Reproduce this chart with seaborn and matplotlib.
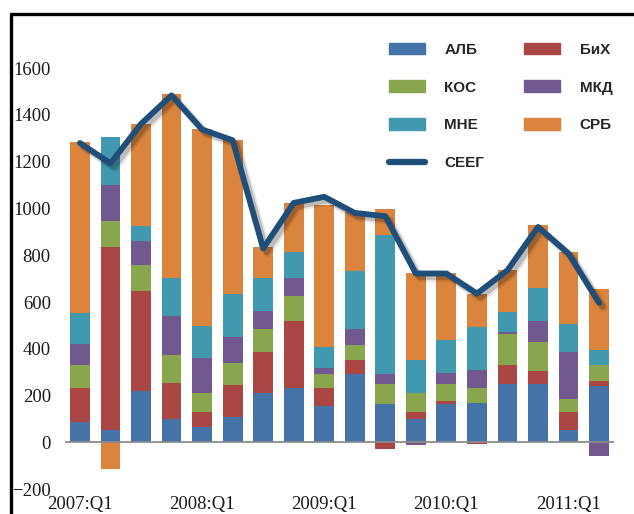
import numpy as np
import matplotlib
matplotlib.use("Agg")
import matplotlib.pyplot as plt
import matplotlib.patheffects as pe
from matplotlib.patches import Patch
from matplotlib.lines import Line2D
import seaborn as sns

quarters = ["2007:Q1", "2007:Q2", "2007:Q3", "2007:Q4",
            "2008:Q1", "2008:Q2", "2008:Q3", "2008:Q4",
            "2009:Q1", "2009:Q2", "2009:Q3", "2009:Q4",
            "2010:Q1", "2010:Q2", "2010:Q3", "2010:Q4",
            "2011:Q1", "2011:Q2"]

alb = [87, 51, 220, 100, 64, 107, 212, 234, 155, 291, 164, 100, 164, 170, 248, 248, 51, 241]
bih = [147, 785, 426, 155, 64, 140, 176, 286, 79, 63, -30, 28, 14, -9, 84, 56, 77, 21]
kos = [97, 111, 113, 119, 84, 91, 97, 105, 57, 62, 84, 84, 70, 64, 131, 125, 56, 70]
mkd = [91, 154, 104, 168, 147, 113, 78, 78, 27, 70, 43, -11, 49, 77, 9, 91, 204, -58]
mne = [133, 204, 64, 161, 140, 182, 140, 113, 91, 246, 596, 142, 141, 181, 84, 140, 118, 63]
srb = [728, -115, 435, 786, 841, 659, 131, 209, 606, 251, 110, 369, 285, 141, 181, 268, 308, 260]
seeg = [1280, 1193, 1362, 1484, 1338, 1292, 829, 1024, 1050, 981, 967, 722, 722, 636, 736, 921, 807, 596]

series_names = ["АЛБ", "БиХ", "КОС", "МКД", "МНЕ", "СРБ"]
series_vals = [alb, bih, kos, mkd, mne, srb]
colors = ["#4572A7", "#AA4643", "#89A54E", "#71588F", "#4198AF", "#DB843D"]
line_color = "#1F4E79"

sns.set_style("white")
plt.rcParams["font.family"] = ["Liberation Serif", "DejaVu Serif"]

fig = plt.figure(figsize=(6.34, 5.14), dpi=100)
ax = fig.add_axes([0.102, 0.0486, 0.867, 0.9096])

# stacked bars: positives and negatives are stacked separately,
# drawn as overlapping cumulative bars (top layer first)
vals = np.array(series_vals, dtype=float)
cum_pos = np.cumsum(np.clip(vals, 0, None), axis=0)
cum_neg = np.cumsum(np.clip(vals, None, 0), axis=0)
for k in range(len(series_names) - 1, -1, -1):
    for cum in (cum_pos[k], cum_neg[k]):
        sns.barplot(x=quarters, y=cum, color=colors[k], width=0.65,
                    saturation=1, linewidth=0, ax=ax)

ax.axhline(0, color="#8c8c8c", lw=1.3, zorder=3)

sns.lineplot(x=np.arange(len(quarters)), y=seeg, color=line_color, lw=4.2,
             sort=False, ax=ax, zorder=5,
             path_effects=[pe.SimpleLineShadow(offset=(3, -3), shadow_color="k", alpha=0.1, linewidth=6),
                           pe.SimpleLineShadow(offset=(2.5, -2.5), shadow_color="k", alpha=0.18),
                           pe.Normal()])

ax.set_xlim(-0.5, len(quarters) - 0.5)
ax.set_ylim(-200, 1800)
ax.set_yticks(range(-200, 1601, 200))
ax.set_xticks(range(0, len(quarters), 4))
ax.set_xticklabels(quarters[::4])
ax.tick_params(axis="y", length=0, pad=10, labelsize=13.5, labelcolor="#1a1a1a")
ax.tick_params(axis="x", length=0, pad=5, labelsize=13.5, labelcolor="#1a1a1a")
ax.set_xlabel("")
ax.set_ylabel("")
for s in ax.spines.values():
    s.set_visible(False)

handles = [Patch(color=colors[0]), Patch(color=colors[2]), Patch(color=colors[4]),
           Line2D([0], [0], color=line_color, lw=4.5, solid_capstyle="round"),
           Patch(color=colors[1]), Patch(color=colors[3]), Patch(color=colors[5])]
labels = ["АЛБ", "КОС", "МНЕ", "СЕЕГ", "БиХ", "МКД", "СРБ"]
ax.legend(handles, labels, ncol=2, loc="upper left", bbox_to_anchor=(0.601, 0.932),
          bbox_transform=fig.transFigure, frameon=False, borderpad=0,
          handlelength=2.35, handleheight=0.8, handletextpad=1.3,
          labelspacing=1.55, columnspacing=2.6,
          prop={"family": "Liberation Sans", "weight": "bold", "size": 11})

# black frame lines (top and left) of the original box
fig.add_artist(Line2D([0.0174, 1.0], [0.972, 0.972], color="black", lw=2.4,
                      transform=fig.transFigure))
fig.add_artist(Line2D([0.0174, 0.0174], [0.0, 0.972], color="black", lw=2.4,
                      transform=fig.transFigure))

fig.savefig("out.png", dpi=100)
